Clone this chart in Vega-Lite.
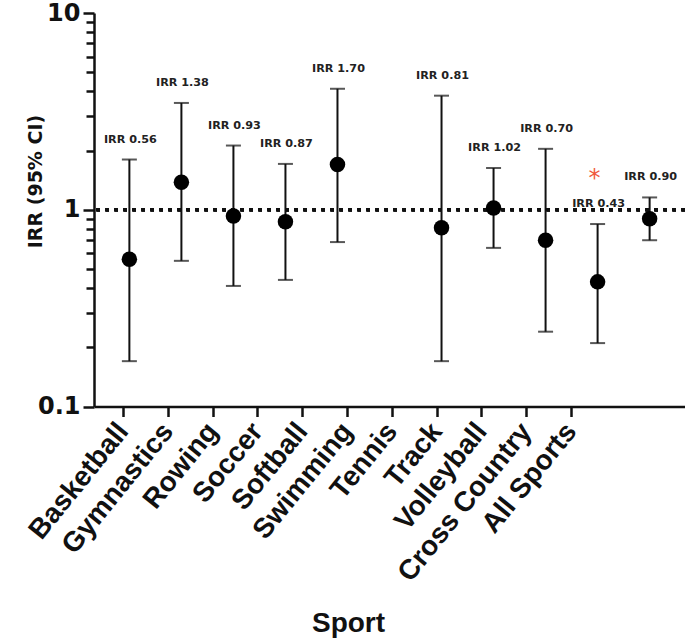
{
  "$schema": "https://vega.github.io/schema/vega-lite/v6.json",
  "autosize": "none",
  "padding": {"left": 94, "top": 13, "right": 0, "bottom": 236},
  "width": 591,
  "height": 393.5,
  "background": "white",
  "config": {
    "view": {"stroke": null},
    "axis": {
      "domainColor": "#111111",
      "tickColor": "#111111",
      "domainWidth": 2.5,
      "tickWidth": 2.5,
      "labelColor": "#111111",
      "titleColor": "#111111",
      "labelFont": "DejaVu Sans",
      "titleFont": "DejaVu Sans",
      "labelFontWeight": "bold",
      "titleFontWeight": "bold",
      "grid": false
    }
  },
  "datasets": {
    "sports": [
      {"sport": "Basketball"}, {"sport": "Gymnastics"}, {"sport": "Rowing"}, {"sport": "Soccer"},
      {"sport": "Softball"}, {"sport": "Swimming"}, {"sport": "Tennis"}, {"sport": "Track"},
      {"sport": "Volleyball"}, {"sport": "Cross Country"}, {"sport": "All Sports"}
    ],
    "irr": [
      {"sport": "Basketball", "irr": 0.56, "lo": 0.17, "hi": 1.80, "label": "IRR 0.56", "star": ""},
      {"sport": "Gymnastics", "irr": 1.38, "lo": 0.55, "hi": 3.49, "label": "IRR 1.38", "star": ""},
      {"sport": "Rowing", "irr": 0.93, "lo": 0.41, "hi": 2.12, "label": "IRR 0.93", "star": ""},
      {"sport": "Soccer", "irr": 0.87, "lo": 0.44, "hi": 1.71, "label": "IRR 0.87", "star": ""},
      {"sport": "Softball", "irr": 1.70, "lo": 0.685, "hi": 4.12, "label": "IRR 1.70", "star": ""},
      {"sport": "Tennis", "irr": 0.81, "lo": 0.17, "hi": 3.80, "label": "IRR 0.81", "star": ""},
      {"sport": "Track", "irr": 1.02, "lo": 0.64, "hi": 1.63, "label": "IRR 1.02", "star": ""},
      {"sport": "Volleyball", "irr": 0.70, "lo": 0.24, "hi": 2.04, "label": "IRR 0.70", "star": ""},
      {"sport": "Cross Country", "irr": 0.43, "lo": 0.21, "hi": 0.846, "label": "IRR 0.43", "star": "*"},
      {"sport": "All Sports", "irr": 0.90, "lo": 0.70, "hi": 1.155, "label": "IRR 0.90", "star": ""}
    ]
  },
  "resolve": {"scale": {"x": "independent"}, "axis": {"x": "independent"}},
  "layer": [
    {
      "data": {"name": "sports"},
      "mark": {"type": "text", "text": ""},
      "encoding": {
        "x": {
          "field": "sport",
          "type": "nominal",
          "sort": null,
          "scale": {
            "type": "point",
            "domain": ["Basketball", "Gymnastics", "Rowing", "Soccer", "Softball", "Swimming", "Tennis", "Track", "Volleyball", "Cross Country", "All Sports"],
            "range": [29, 477],
            "padding": 0
          },
          "axis": {
            "orient": "bottom",
            "domain": false,
            "title": "Sport",
            "titleFont": "Liberation Sans",
            "titleFontSize": 28,
            "titleX": 254,
            "titleY": 225,
            "titleBaseline": "alphabetic",
            "titleAlign": "center",
            "labelFont": "Liberation Sans",
            "labelAngle": -51,
            "labelFontSize": 28,
            "labelPadding": 10,
            "labelAlign": "right",
            "labelBaseline": "middle",
            "labelLimit": 0,
            "tickSize": 10,
            "labelOverlap": false
          }
        }
      }
    },
    {
      "data": {"name": "irr"},
      "encoding": {
        "x": {
          "field": "sport",
          "type": "nominal",
          "sort": null,
          "scale": {
            "type": "point",
            "domain": ["Basketball", "Gymnastics", "Rowing", "Soccer", "Softball", "Swimming", "Tennis", "Track", "Volleyball", "Cross Country", "All Sports"],
            "padding": 0.68
          },
          "axis": {"orient": "bottom", "domain": true, "labels": false, "ticks": false, "title": null}
        }
      },
      "layer": [
        {
          "mark": {"type": "rule", "strokeWidth": 3, "strokeDash": [3.5, 5.5], "color": "#111111"},
          "encoding": {
            "x": null,
            "y": {
              "datum": 1,
              "type": "quantitative",
              "title": "IRR (95% CI)",
              "scale": {"type": "log", "domain": [0.1, 10], "nice": false},
              "axis": {
                "values": [0.1, 0.2, 0.3, 0.4, 0.5, 0.6, 0.7, 0.8, 0.9, 1, 2, 3, 4, 5, 6, 7, 8, 9, 10],
                "labelExpr": "datum.value == 0.1 ? '0.1' : (datum.value == 1 ? '1' : (datum.value == 10 ? '10' : ''))",
                "labelFontSize": 24,
                "labelPadding": 3,
                "tickSize": {"condition": {"test": "datum.value == 0.1 || datum.value == 1 || datum.value == 10", "value": 11}, "value": 8},
                "titleFontSize": 19,
                "titleAngle": -90,
                "titleX": -53,
                "titleY": 168,
                "titleAlign": "center",
                "titleBaseline": "alphabetic",
                "labelOverlap": false,
                "labelBound": false
              }
            }
          }
        },
        {
          "mark": {"type": "rule", "strokeWidth": 2, "color": "#111111"},
          "encoding": {
            "y": {"field": "lo", "type": "quantitative", "title": "IRR (95% CI)"},
            "y2": {"field": "hi"}
          }
        },
        {
          "mark": {"type": "tick", "size": 15, "thickness": 2, "color": "#111111", "orient": "horizontal"},
          "encoding": {
            "y": {"field": "hi", "type": "quantitative", "title": "IRR (95% CI)"}
          }
        },
        {
          "mark": {"type": "tick", "size": 15, "thickness": 2, "color": "#111111", "orient": "horizontal"},
          "encoding": {
            "y": {"field": "lo", "type": "quantitative", "title": "IRR (95% CI)"}
          }
        },
        {
          "mark": {"type": "circle", "size": 240, "color": "#000000", "opacity": 1},
          "encoding": {
            "y": {"field": "irr", "type": "quantitative", "title": "IRR (95% CI)"}
          }
        },
        {
          "mark": {"type": "text", "font": "DejaVu Sans", "fontWeight": "bold", "fontSize": 11.2, "color": "#222222", "baseline": "alphabetic", "dy": -17, "dx": 1},
          "encoding": {
            "y": {"field": "hi", "type": "quantitative", "title": "IRR (95% CI)"},
            "text": {"field": "label"}
          }
        },
        {
          "mark": {"type": "text", "font": "DejaVu Sans", "fontSize": 24, "color": "#f0583e", "baseline": "alphabetic", "dy": -38, "dx": -3},
          "encoding": {
            "y": {"field": "hi", "type": "quantitative", "title": "IRR (95% CI)"},
            "text": {"field": "star"}
          }
        }
      ]
    }
  ]
}
